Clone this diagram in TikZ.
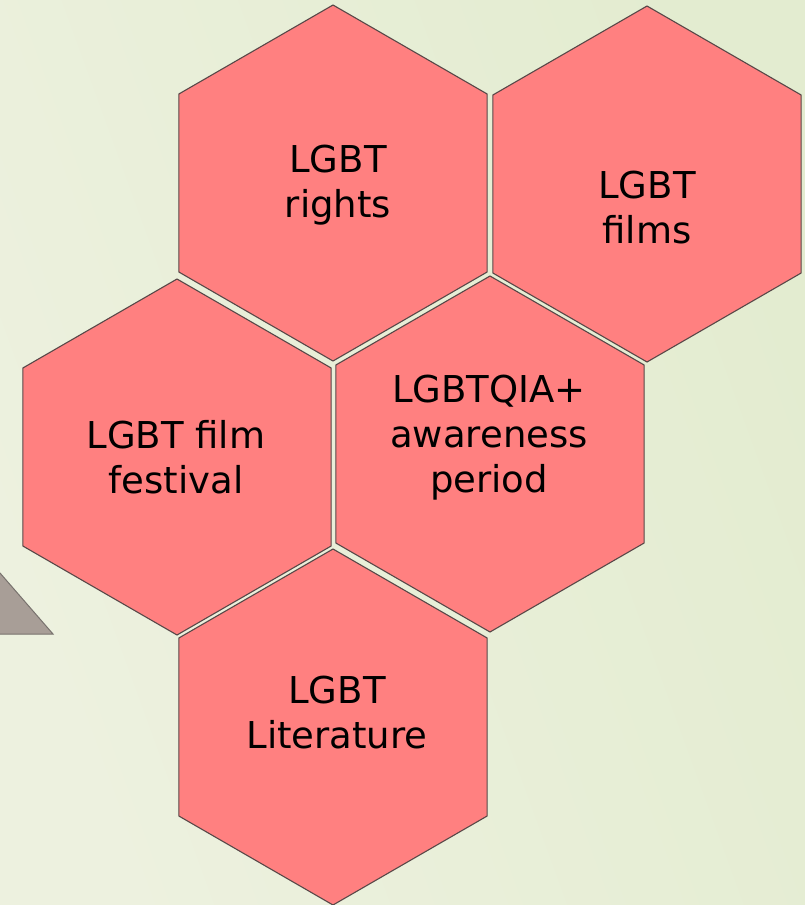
\documentclass[tikz,border=0pt]{standalone}
\usepackage{fontspec}
\setmainfont{DejaVu Sans}
\definecolor{bgleft}{RGB}{237,241,223}
\definecolor{bgright}{RGB}{227,236,208}
\definecolor{hexfill}{RGB}{255,128,128}
\definecolor{hexline}{RGB}{88,72,72}
\definecolor{trifill}{RGB}{168,158,151}
\definecolor{triline}{RGB}{120,114,110}
\tikzset{
  hexstyle/.style={fill=hexfill, draw=hexline, line width=1.1pt, line join=miter},
  hextext/.style={anchor=north, inner sep=0pt, align=center, text=black,
    font=\fontsize{37}{45}\selectfont},
}
\begin{document}
\begin{tikzpicture}[x=1pt,y=-1pt]
\useasboundingbox (0,0) rectangle (805,905);
\clip (0,0) rectangle (805,905);
\shade[left color=bgleft, right color=bgright, shading angle=110] (0,0) rectangle (805,905);
% partial triangle at left edge
\draw[fill=trifill, draw=triline, line width=1pt] (-20,550) -- (53,634) -- (-20,634) -- cycle;
% hexagon centres
\coordinate (h1) at (333,183);
\coordinate (h2) at (647,184);
\coordinate (h3) at (177,457);
\coordinate (h4) at (490,454);
\coordinate (h5) at (333,727);
\foreach \c in {h1,h2,h3,h4,h5}{
  \draw[hexstyle, shift={(\c)}] (90:178) -- (30:178) -- (-30:178) -- (-90:178) -- (-150:178) -- (150:178) -- cycle;
}
\node[hextext] (t1) at (338,145) {LGBT\\rights};
\node[hextext] (t2) at (647,171) {LGBT\\films};
\node[hextext] (t3) at (176,420) {LGBT film\\festival};
\node[hextext] (t4) at (489,375) {LGBTQIA+\\awareness\\period};
\node[hextext] (t5) at (337,676) {LGBT\\Literature};
\end{tikzpicture}
\end{document}
